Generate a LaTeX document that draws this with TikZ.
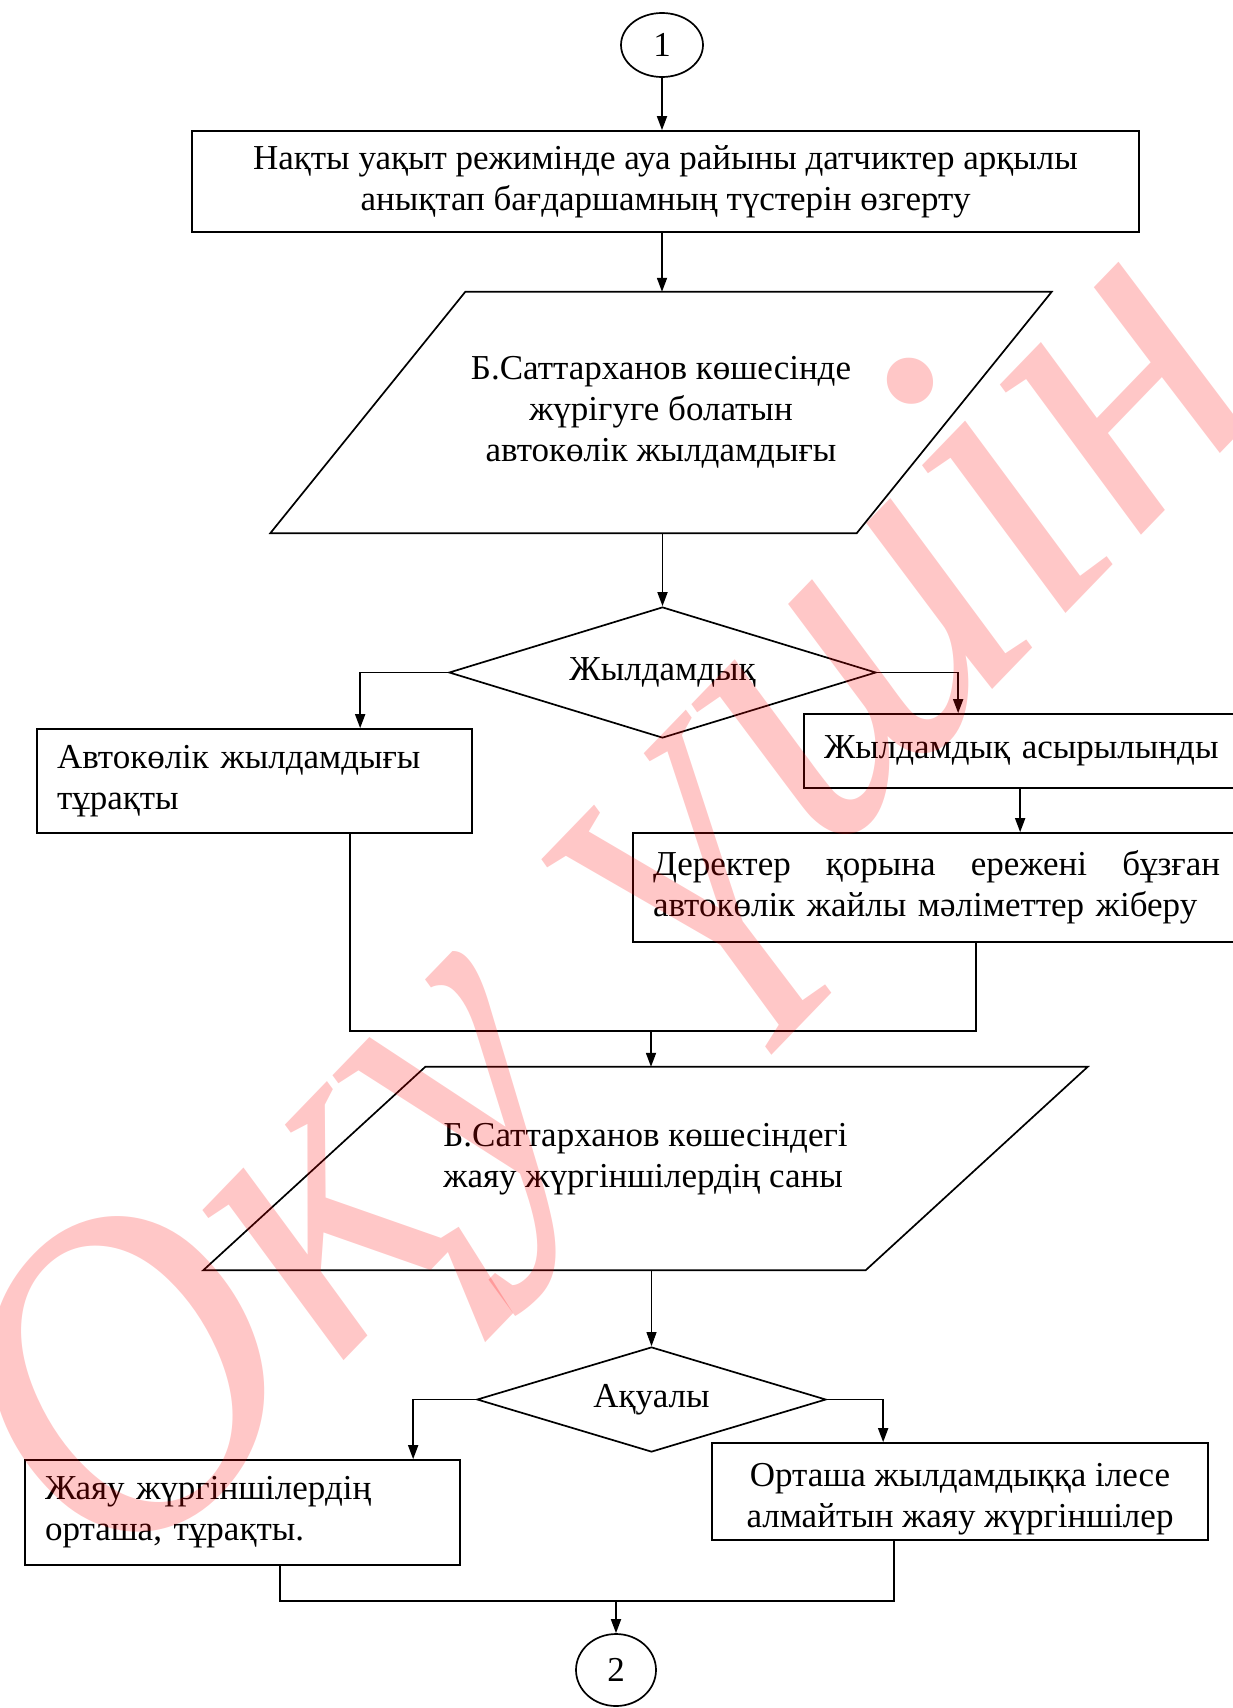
\documentclass[tikz,border=0pt]{standalone}
\usepackage{fontspec}
\setmainfont{Liberation Serif}
\usetikzlibrary{shapes.geometric,arrows.meta,calc}
\begin{document}
\begin{tikzpicture}[x=1pt,y=-1pt,
  every node/.style={font=\fontsize{35}{41}\selectfont, inner sep=0pt},
  boxbase/.style={draw, rectangle, line width=1.7pt},
  cbox/.style={boxbase, align=center},
  lbox/.style={boxbase, align=left, inner xsep=20pt},
  connector/.style={draw, ellipse, line width=1.7pt},
  decision/.style={draw, diamond, line width=1.7pt, shape aspect=3.2},
  iobox/.style={align=center},
  link/.style={line width=1.7pt},
  arr/.style={link, -{Triangle[length=14pt,width=10pt]}},
  stamptext/.style={text=red, text opacity=0.22,
    font=\fontsize{390}{390}\selectfont\itshape}
]
\useasboundingbox (0,0) rectangle (1233,1708);

% start connector and first process
\node[connector, minimum width=82pt, minimum height=64pt] (c1) at (662,45) {1};
\node[cbox, minimum width=947pt, minimum height=101pt] (b1) at (665.5,181.5)
  {Нақты уақыт режимінде ауа райыны датчиктер арқылы\\анықтап бағдаршамның түстерін өзгерту};

% first input (parallelogram drawn around the text node)
\node[iobox, minimum width=586pt, minimum height=241pt] (p1) at (661,412.5)
  {Б.Саттарханов көшесінде\\жүрігуге болатын\\автокөлік жылдамдығы};
\draw[link] ([xshift=97.5pt]p1.north west) -- ([xshift=97.5pt]p1.north east)
  -- ([xshift=-97.5pt]p1.south east) -- ([xshift=-97.5pt]p1.south west) -- cycle;

% speed decision
\node[decision, minimum width=427pt, minimum height=131pt] (d1) at (662.5,672.5) {Жылдамдық};

\node[lbox, text width=395pt, minimum height=104pt] (l1) at (254.5,781)
  {Автокөлік жылдамдығы\\тұрақты};
\node[lbox, text width=406pt, minimum height=74pt] (r1) at (1027,751)
  {Жылдамдық асырылынды};
\node[lbox, text width=567pt, minimum height=109pt] (r2) at (936.5,887.5)
  {Деректер\hfill{} қорына\hfill{} ережені\hfill{} бұзған\\автокөлік жайлы мәліметтер жіберу};

% second input
\node[iobox, align=left, minimum width=662pt, minimum height=203pt] (p2) at (645.5,1168.5)
  {Б.Саттарханов көшесіндегі\\жаяу жүргіншілердің саны\\[-14pt]\mbox{}};
\draw[link] ([xshift=111pt]p2.north west) -- ([xshift=111pt]p2.north east)
  -- ([xshift=-111pt]p2.south east) -- ([xshift=-111pt]p2.south west) -- cycle;

% pedestrian decision
\node[decision, minimum width=349pt, minimum height=105pt] (d2) at (651.5,1399.5) {Ақуалы};

\node[lbox, text width=395pt, minimum height=105pt] (l2) at (242.5,1512.5)
  {Жаяу жүргіншілердің\\орташа, тұрақты.};
\node[cbox, minimum width=496pt, minimum height=97pt] (r3) at (960,1491.5)
  {\rule{0pt}{38pt}Орташа жылдамдыққа ілесе\\алмайтын жаяу жүргіншілер};

\node[connector, minimum width=80pt, minimum height=72pt] (c2) at (616,1670) {2};

% merge points
\coordinate (m1) at (651,1031);
\coordinate (m2) at (616,1601);

% connectors
\draw[arr] (c1.south) -- (c1.south |- b1.north);
\draw[arr] (b1.south -| c1.south) -- (c1.south |- p1.north);
\draw[arr] (p1.south -| d1.north) -- (d1.north);
\draw[arr] (d1.west) -| ([xshift=324pt]l1.north west);
\draw[arr] (d1.east) -| ([xshift=155pt]r1.north west);
\draw[arr] ([xshift=217pt]r1.south west) -- ([xshift=217pt]r1.south west |- r2.north);
\draw[link] ([xshift=314pt]l1.south west) |- (m1) -| ([xshift=344pt]r2.south west);
\draw[arr] (m1) -- (m1 |- p2.north);
\draw[arr, line width=0.9pt] (p2.south -| d2.north) -- (d2.north);
\draw[arr] (d2.west) -| ([xshift=389pt]l2.north west);
\draw[arr] (d2.east) -| ([xshift=172pt]r3.north west);
\draw[link] ([xshift=256pt]l2.south west) |- (m2) -| ([xshift=183pt]r3.south west);
\draw[arr] (m2) -- (c2.north);

% diagonal watermark over the chart
\begin{scope}[shift={(628,923)}, rotate=46]
  \node[stamptext, transform shape, xscale=1.09, yscale=1.15] (wm) at (0,0) {Оқу үшін};
\end{scope}
\end{tikzpicture}
\end{document}
